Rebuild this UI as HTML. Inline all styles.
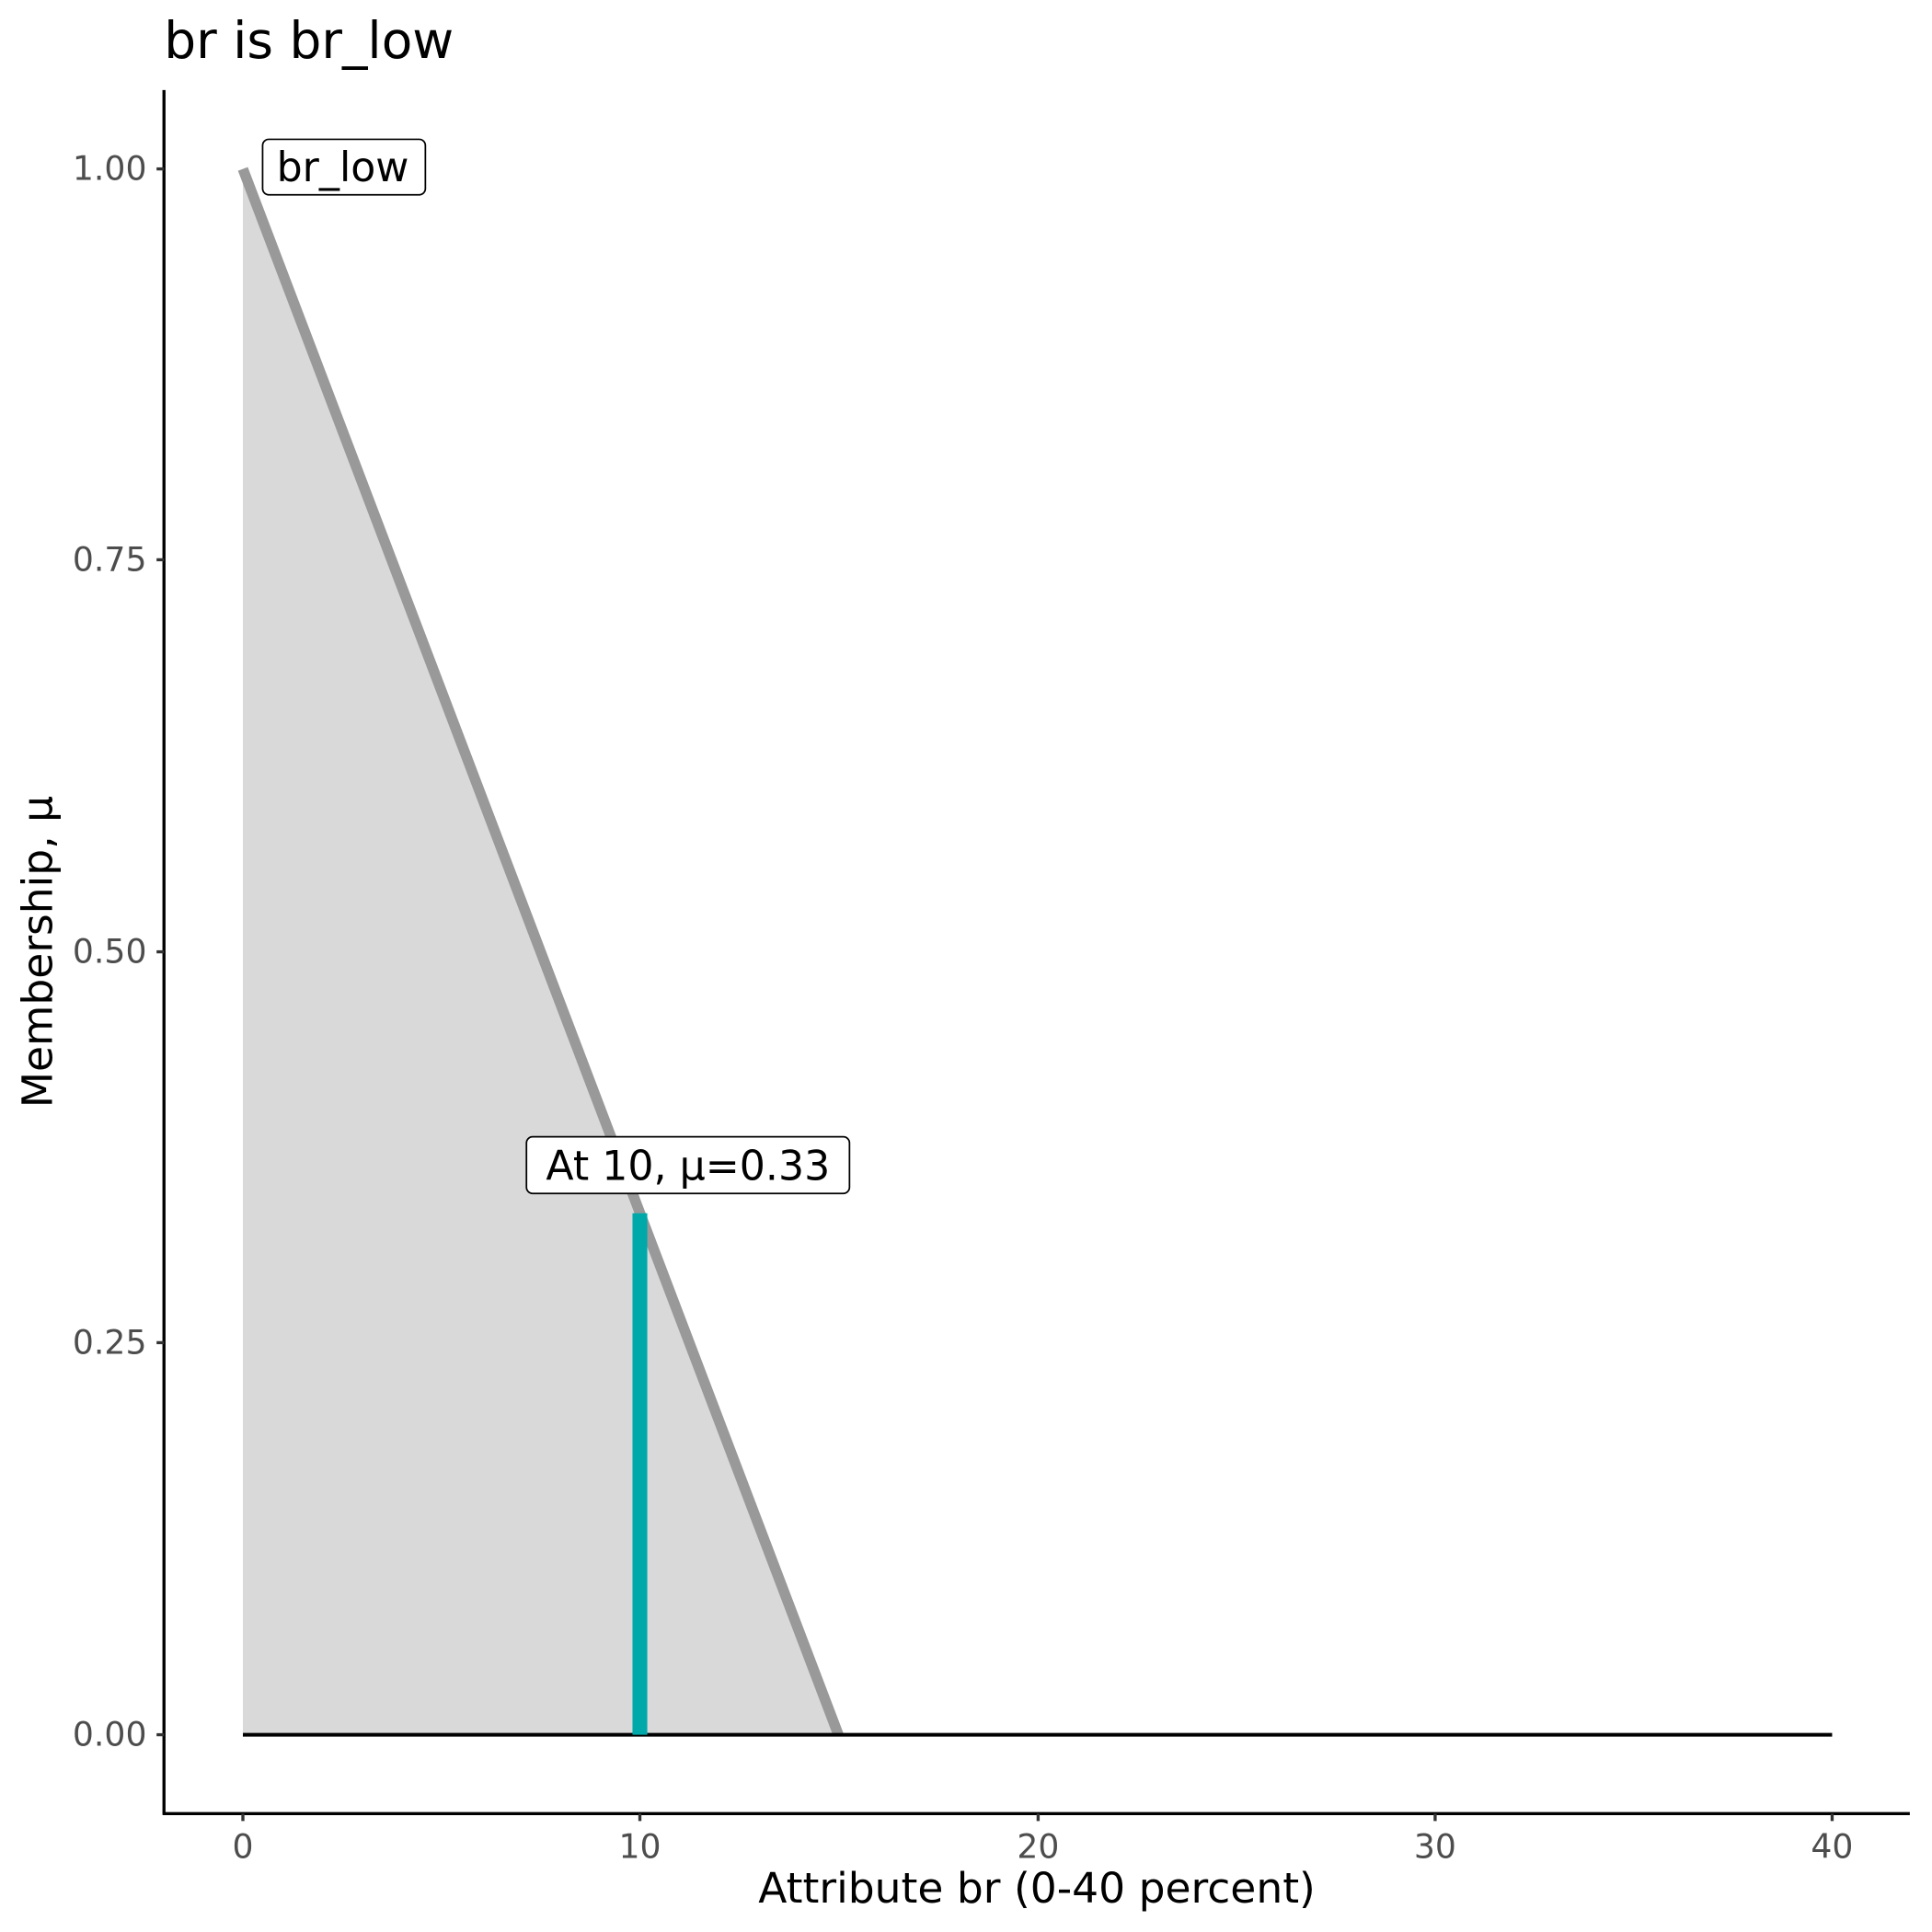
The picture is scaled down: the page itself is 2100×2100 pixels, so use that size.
<!DOCTYPE html>
<html><head><meta charset="utf-8"><style>html,body{margin:0;padding:0;background:#fff}svg{display:block}</style></head>
<body>
<svg width="2100" height="2100" viewBox="0 0 1567 1567" xmlns="http://www.w3.org/2000/svg" font-family="DejaVu Sans, Liberation Sans, sans-serif">
<rect width="1567" height="1567" fill="#fff"/>
<text x="133" y="47" font-size="41" fill="#000">br is br_low</text>
<polygon points="197,137 680,1407 197,1407" fill="#d9d9d9"/>
<line x1="197" y1="137" x2="680" y2="1407" stroke="#999" stroke-width="8.5"/>
<line x1="197" y1="1407" x2="1486" y2="1407" stroke="#000" stroke-width="3"/>
<line x1="519" y1="984" x2="519" y2="1407" stroke="#00a9a9" stroke-width="12"/>
<rect x="213" y="113" width="132" height="45" rx="5" fill="#fff" stroke="#000" stroke-width="1.3"/>
<text x="278" y="147" font-size="33" text-anchor="middle" fill="#000">br_low</text>
<rect x="427" y="922" width="262" height="46" rx="5" fill="#fff" stroke="#000" stroke-width="1.3"/>
<text x="558" y="957" font-size="33" text-anchor="middle" fill="#000">At 10, μ=0.33</text>
<line x1="133" y1="73" x2="133" y2="1472" stroke="#000" stroke-width="2.5"/>
<line x1="132" y1="1471" x2="1549" y2="1471" stroke="#000" stroke-width="2.5"/>
<g stroke="#333" stroke-width="2.5">
<line x1="127" y1="137" x2="133" y2="137"/><line x1="127" y1="454" x2="133" y2="454"/><line x1="127" y1="772" x2="133" y2="772"/><line x1="127" y1="1089" x2="133" y2="1089"/><line x1="127" y1="1407" x2="133" y2="1407"/>
<line x1="197" y1="1471" x2="197" y2="1477"/><line x1="519" y1="1471" x2="519" y2="1477"/><line x1="842" y1="1471" x2="842" y2="1477"/><line x1="1164" y1="1471" x2="1164" y2="1477"/><line x1="1486" y1="1471" x2="1486" y2="1477"/>
</g>
<g font-size="27" fill="#4d4d4d" text-anchor="end">
<text x="119" y="146">1.00</text><text x="119" y="463">0.75</text><text x="119" y="781">0.50</text><text x="119" y="1098">0.25</text><text x="119" y="1416">0.00</text>
</g>
<g font-size="27" fill="#4d4d4d" text-anchor="middle">
<text x="197" y="1507">0</text><text x="519" y="1507">10</text><text x="842" y="1507">20</text><text x="1164" y="1507">30</text><text x="1486" y="1507">40</text>
</g>
<text x="841" y="1543" font-size="34" text-anchor="middle" fill="#000">Attribute br (0-40 percent)</text>
<text transform="translate(42,772) rotate(-90)" font-size="34" text-anchor="middle" fill="#000">Membership, μ</text>
</svg>
</body></html>
